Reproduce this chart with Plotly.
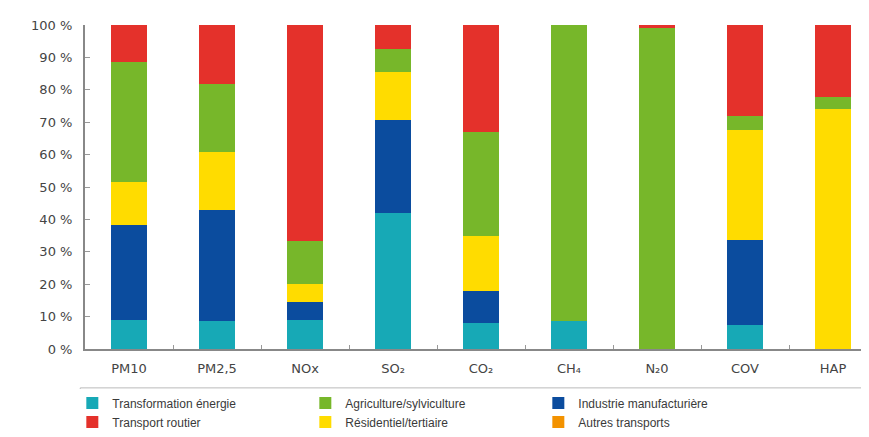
import plotly.graph_objects as go

polluants = ['PM10', 'PM2,5', 'NOx', 'SO₂', 'CO₂', 'CH₄', 'N₂0', 'COV', 'HAP']

# parts (%) par secteur
transformation = [9.0, 8.7, 9.0, 42.0, 8.0, 8.5, 0.0, 7.4, 0.0]
industrie      = [29.4, 34.3, 5.5, 28.6, 10.0, 0.0, 0.0, 26.3, 0.0]
residentiel    = [13.0, 17.7, 5.5, 14.8, 17.0, 0.0, 0.0, 33.8, 74.0]
agriculture    = [37.1, 21.0, 13.4, 7.2, 32.0, 91.5, 99.2, 4.5, 3.7]
transport      = [11.5, 18.3, 66.6, 7.4, 33.0, 0.0, 0.8, 28.0, 22.3]
autres         = [0, 0, 0, 0, 0, 0, 0, 0, 0]

series = [
    # (nom, valeurs, couleur, rang dans la légende)
    ('Transformation énergie', transformation, '#17A9B6', 1),
    ('Industrie manufacturière', industrie, '#0B4C9E', 3),
    ('Résidentiel/tertiaire', residentiel, '#FFDC00', 5),
    ('Agriculture/sylviculture', agriculture, '#77B72A', 2),
    ('Transport routier', transport, '#E4312B', 4),
    ('Autres transports', autres, '#F39200', 6),
]

fig = go.Figure()
for name, vals, color, rank in series:
    fig.add_trace(go.Bar(
        x=polluants, y=vals, name=name,
        marker=dict(color=color, line=dict(width=0)),
        legendrank=rank,
    ))

fig.update_layout(
    barmode='stack',
    bargap=0.6,
    width=869, height=437,
    margin=dict(l=77, r=0, t=17, b=96, autoexpand=False),
    paper_bgcolor='white', plot_bgcolor='white',
    font=dict(family='DejaVu Sans, sans-serif', size=13, color='#444'),
    showlegend=True,
    legend=dict(
        orientation='h', x=-0.016, y=-0.122, xanchor='left', yanchor='top',
        traceorder='normal',
        entrywidth=188, entrywidthmode='pixels',
        font=dict(family='Liberation Sans, Arial, sans-serif', size=12, color='#3a3a3a'),
        itemwidth=30, tracegroupgap=0,
    ),
    shapes=[dict(
        type='rect', xref='paper', yref='paper',
        x0=-0.006, x1=0.989, y0=-0.284, y1=-0.12,
        line=dict(color='#BBBBBB', width=1),
    )],
)

fig.update_yaxes(
    range=[0, 100], dtick=10, ticksuffix=' %',
    showgrid=False, zeroline=False, automargin=False,
    showline=True, linecolor='#888', linewidth=2,
    ticks='inside', ticklen=5, tickcolor='#999',
    ticklabelstandoff=8,
)
fig.update_xaxes(
    showgrid=False, showline=True, linecolor='#888', linewidth=1.5,
    automargin=False,
    ticks='inside', tickson='boundaries', ticklen=4, tickcolor='#999',
    ticklabelstandoff=7,
)

fig.write_html('out.html')
